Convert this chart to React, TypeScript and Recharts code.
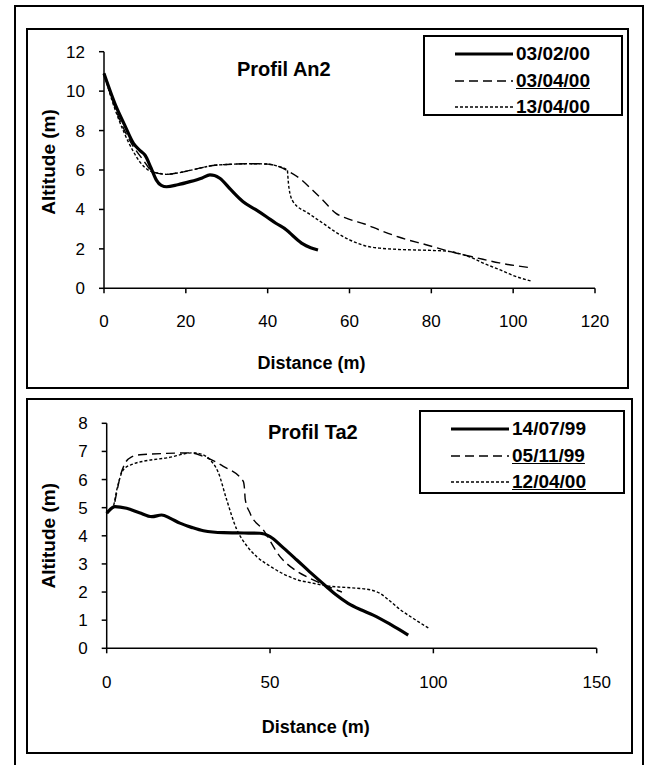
import React from 'react';
import { LineChart, Line, XAxis, YAxis, Legend } from 'recharts';

// Profil An2 (distance m, altitude m)
const an2Feb = [
  { x: 0, y: 10.9 }, { x: 3, y: 9.2 }, { x: 5, y: 8.3 }, { x: 7.2, y: 7.35 }, { x: 9, y: 6.95 },
  { x: 10, y: 6.76 }, { x: 11.5, y: 6.1 }, { x: 12.8, y: 5.49 }, { x: 14, y: 5.22 }, { x: 15.3, y: 5.15 },
  { x: 18, y: 5.25 }, { x: 21, y: 5.41 }, { x: 24, y: 5.6 }, { x: 25.9, y: 5.75 }, { x: 27, y: 5.72 },
  { x: 28.3, y: 5.58 }, { x: 31, y: 5.0 }, { x: 34, y: 4.39 }, { x: 37, y: 4.0 }, { x: 39.7, y: 3.63 },
  { x: 42, y: 3.3 }, { x: 44.6, y: 2.96 }, { x: 46.5, y: 2.6 }, { x: 48.6, y: 2.25 }, { x: 50.5, y: 2.06 },
  { x: 52.3, y: 1.94 },
];
const an2Apr3 = [
  { x: 0, y: 10.9 }, { x: 3, y: 9.0 }, { x: 6, y: 7.6 }, { x: 9.6, y: 6.5 }, { x: 12, y: 5.9 },
  { x: 15.3, y: 5.78 }, { x: 18, y: 5.85 }, { x: 21, y: 5.98 }, { x: 24, y: 6.12 }, { x: 26.6, y: 6.23 },
  { x: 30, y: 6.28 }, { x: 35.6, y: 6.32 }, { x: 40, y: 6.3 }, { x: 42, y: 6.22 }, { x: 45.4, y: 5.9 },
  { x: 48, y: 5.55 }, { x: 51, y: 4.97 }, { x: 53.5, y: 4.47 }, { x: 56.7, y: 3.8 }, { x: 60, y: 3.5 },
  { x: 63.7, y: 3.26 }, { x: 67.3, y: 2.96 }, { x: 72, y: 2.6 }, { x: 78.7, y: 2.21 }, { x: 86, y: 1.79 },
  { x: 91, y: 1.55 }, { x: 96.6, y: 1.29 }, { x: 104.3, y: 1.04 },
];
const an2Apr13 = [
  { x: 0, y: 10.9 }, { x: 2, y: 9.5 }, { x: 4.7, y: 8.0 }, { x: 7, y: 7.0 }, { x: 8.8, y: 6.4 },
  { x: 11.2, y: 5.95 }, { x: 13, y: 5.85 }, { x: 15.3, y: 5.78 }, { x: 18, y: 5.85 }, { x: 21, y: 5.98 },
  { x: 24, y: 6.12 }, { x: 26.6, y: 6.23 }, { x: 30, y: 6.28 }, { x: 35.6, y: 6.32 }, { x: 40, y: 6.3 },
  { x: 42, y: 6.22 }, { x: 44.8, y: 6.0 }, { x: 45, y: 5.5 }, { x: 45.2, y: 5.1 }, { x: 46.2, y: 4.4 },
  { x: 50, y: 3.8 }, { x: 53.5, y: 3.3 }, { x: 57, y: 2.8 }, { x: 60, y: 2.46 }, { x: 64.5, y: 2.12 },
  { x: 67.3, y: 2.04 }, { x: 72, y: 1.97 }, { x: 78.7, y: 1.93 }, { x: 84.4, y: 1.87 }, { x: 87, y: 1.75 },
  { x: 90, y: 1.54 }, { x: 93, y: 1.25 }, { x: 96.6, y: 0.95 }, { x: 100, y: 0.65 }, { x: 104.3, y: 0.37 },
];

// Profil Ta2
const ta2Jul = [
  { x: 0, y: 4.8 }, { x: 2.5, y: 5.04 }, { x: 6.1, y: 4.98 }, { x: 10, y: 4.82 }, { x: 13.8, y: 4.68 },
  { x: 16.8, y: 4.74 }, { x: 19.5, y: 4.62 }, { x: 22.4, y: 4.45 }, { x: 26, y: 4.3 }, { x: 29.6, y: 4.18 },
  { x: 35.7, y: 4.11 }, { x: 42, y: 4.1 }, { x: 46.9, y: 4.09 }, { x: 50, y: 3.97 }, { x: 54, y: 3.58 },
  { x: 58.2, y: 3.14 }, { x: 62.5, y: 2.68 }, { x: 67.3, y: 2.19 }, { x: 70, y: 1.92 }, { x: 73.9, y: 1.6 },
  { x: 78, y: 1.36 }, { x: 81.6, y: 1.18 }, { x: 87, y: 0.84 }, { x: 92.3, y: 0.47 },
];
const ta2Nov = [
  { x: 0, y: 4.85 }, { x: 2, y: 5.0 }, { x: 3, y: 5.5 }, { x: 4.1, y: 6.1 }, { x: 5.5, y: 6.55 },
  { x: 7.5, y: 6.8 }, { x: 10.2, y: 6.88 }, { x: 18.4, y: 6.93 }, { x: 25.5, y: 6.95 }, { x: 29.6, y: 6.82 },
  { x: 35.7, y: 6.47 }, { x: 41.8, y: 5.94 }, { x: 42.2, y: 5.65 }, { x: 42.4, y: 5.3 }, { x: 43.9, y: 4.8 },
  { x: 48, y: 4.2 }, { x: 53, y: 3.27 }, { x: 58.2, y: 2.74 }, { x: 62, y: 2.5 }, { x: 66.3, y: 2.27 },
  { x: 72, y: 2.0 },
];
const ta2Apr = [
  { x: 0, y: 4.85 }, { x: 2, y: 5.05 }, { x: 3.1, y: 5.64 }, { x: 5.1, y: 6.35 }, { x: 8, y: 6.55 },
  { x: 11.2, y: 6.65 }, { x: 18.4, y: 6.77 }, { x: 26.5, y: 6.95 }, { x: 29, y: 6.9 }, { x: 31.6, y: 6.71 },
  { x: 34.2, y: 6.24 }, { x: 36.7, y: 5.29 }, { x: 39.8, y: 4.23 }, { x: 42.9, y: 3.64 }, { x: 46, y: 3.25 },
  { x: 50, y: 2.92 }, { x: 54, y: 2.65 }, { x: 58.2, y: 2.44 }, { x: 63, y: 2.32 }, { x: 67.3, y: 2.22 },
  { x: 71, y: 2.18 }, { x: 75, y: 2.15 }, { x: 80.6, y: 2.08 }, { x: 83.7, y: 1.95 }, { x: 86.5, y: 1.7 },
  { x: 89.8, y: 1.38 }, { x: 94, y: 1.05 }, { x: 98.5, y: 0.72 },
];

const an2Names = ['03/02/00', '03/04/00', '13/04/00'];
const ta2Names = ['14/07/99', '05/11/99', '12/04/00'];
const an2XTicks = [0, 20, 40, 60, 80, 100, 120];
const an2YTicks = [0, 2, 4, 6, 8, 10, 12];
const ta2XTicks = [0, 50, 100, 150];
const ta2YTicks = [0, 1, 2, 3, 4, 5, 6, 7, 8];

const FONT = 'Arial, "Liberation Sans", sans-serif';
const styles = [
  { strokeWidth: 3.2, dash: undefined as string | undefined },
  { strokeWidth: 1.4, dash: '9 5' },
  { strokeWidth: 1.4, dash: '3 2' },
];

const LegendBox = ({ names }: { names: string[] }) => (
  <div style={{ width: '100%', height: '100%', boxSizing: 'border-box', border: '2px solid #000', background: '#fff', fontFamily: FONT, paddingTop: 4 }}>
    {names.map((n, i) => (
      <div key={n} style={{ display: 'flex', alignItems: 'center', height: 26.5, paddingLeft: 30 }}>
        <svg width={58} height={10} style={{ marginRight: 3 }}>
          <line x1={0} y1={5} x2={58} y2={5} stroke="#000" strokeWidth={styles[i].strokeWidth} strokeDasharray={styles[i].dash} />
        </svg>
        <span style={{ fontWeight: 'bold', fontSize: 19, textDecoration: i > 0 ? 'underline' : 'none' }}>{n}</span>
      </div>
    ))}
  </div>
);

const xLabel = (text: string, dx: number, dy: number) => (props: any) => {
  const vb = props.viewBox;
  return (
    <text x={vb.x + vb.width / 2 + dx} y={vb.y + dy} textAnchor="middle" dominantBaseline="central"
      fontFamily={FONT} fontWeight="bold" fontSize={18} fill="#000">{text}</text>
  );
};
const yLabel = (text: string, cx: number, dy: number) => (props: any) => {
  const vb = props.viewBox;
  const x = vb.x + cx;
  const y = vb.y + vb.height / 2 + dy;
  return (
    <text x={x} y={y} transform={`rotate(-90, ${x}, ${y})`} textAnchor="middle" dominantBaseline="central"
      fontFamily={FONT} fontWeight="bold" fontSize={19} fill="#000">{text}</text>
  );
};

const tickStyle = { fontSize: 17, fontFamily: FONT, fill: '#000' };
const axisLine = { stroke: '#000', strokeWidth: 1.5 };

export default function App() {
  const an2 = [an2Feb, an2Apr3, an2Apr13];
  const ta2 = [ta2Jul, ta2Nov, ta2Apr];
  return (
    <div style={{ position: 'absolute', left: 0, top: 0, width: 652, height: 765, overflow: 'hidden', background: '#fff' }}>
      <div style={{ position: 'absolute', left: 14, top: 5, width: 630, height: 800, border: '2px solid #000', boxSizing: 'border-box' }} />
      <div style={{ position: 'absolute', left: 26, top: 28, width: 603, height: 361, border: '2px solid #000', boxSizing: 'border-box' }} />
      <div style={{ position: 'absolute', left: 26, top: 398, width: 607, height: 356, border: '2px solid #000', boxSizing: 'border-box' }} />

      <div style={{ position: 'absolute', left: 0, top: 0 }}>
        <LineChart width={652} height={392} margin={{ top: 51.7, right: 57, left: 44, bottom: 23.7 }}>
          <XAxis type="number" dataKey="x" domain={[0, 120]} ticks={an2XTicks} height={80}
            tick={tickStyle} tickSize={5} tickMargin={22} axisLine={axisLine} tickLine={axisLine}
            label={{ content: xLabel('Distance (m)', -38, 75) }} />
          <YAxis type="number" dataKey="y" domain={[0, 12]} ticks={an2YTicks} width={60}
            tick={tickStyle} tickSize={5} tickMargin={14} axisLine={axisLine} tickLine={axisLine}
            label={{ content: yLabel('Altitude (m)', 4, -8) }} />
          {an2.map((d, i) => (
            <Line key={an2Names[i]} data={d} dataKey="y" name={an2Names[i]} type="monotone" stroke="#000"
              strokeWidth={styles[i].strokeWidth} strokeDasharray={styles[i].dash} dot={false}
              activeDot={false} isAnimationActive={false} />
          ))}
          <Legend layout="horizontal" verticalAlign="middle" content={() => <LegendBox names={an2Names} />}
            wrapperStyle={{ left: 423, top: 35, width: 200, height: 81 }} />
        </LineChart>
      </div>
      <div style={{ position: 'absolute', left: 237, top: 58, fontFamily: FONT, fontWeight: 'bold', fontSize: 20 }}>Profil An2</div>

      <div style={{ position: 'absolute', left: 0, top: 392 }}>
        <LineChart width={652} height={373} margin={{ top: 31.3, right: 55.3, left: 46.7, bottom: 36.7 }}>
          <XAxis type="number" dataKey="x" domain={[0, 150]} ticks={ta2XTicks} height={80}
            tick={tickStyle} tickSize={5} tickMargin={23} axisLine={axisLine} tickLine={axisLine}
            label={{ content: xLabel('Distance (m)', -36, 79) }} />
          <YAxis type="number" dataKey="y" domain={[0, 8]} ticks={ta2YTicks} width={60}
            tick={tickStyle} tickSize={5} tickMargin={14} axisLine={axisLine} tickLine={axisLine}
            label={{ content: yLabel('Altitude (m)', 2, 0) }} />
          {ta2.map((d, i) => (
            <Line key={ta2Names[i]} data={d} dataKey="y" name={ta2Names[i]} type="monotone" stroke="#000"
              strokeWidth={styles[i].strokeWidth} strokeDasharray={styles[i].dash} dot={false}
              activeDot={false} isAnimationActive={false} />
          ))}
          <Legend layout="horizontal" verticalAlign="middle" content={() => <LegendBox names={ta2Names} />}
            wrapperStyle={{ left: 419, top: 18, width: 206, height: 84 }} />
        </LineChart>
      </div>
      <div style={{ position: 'absolute', left: 268, top: 421, fontFamily: FONT, fontWeight: 'bold', fontSize: 20 }}>Profil Ta2</div>
    </div>
  );
}
